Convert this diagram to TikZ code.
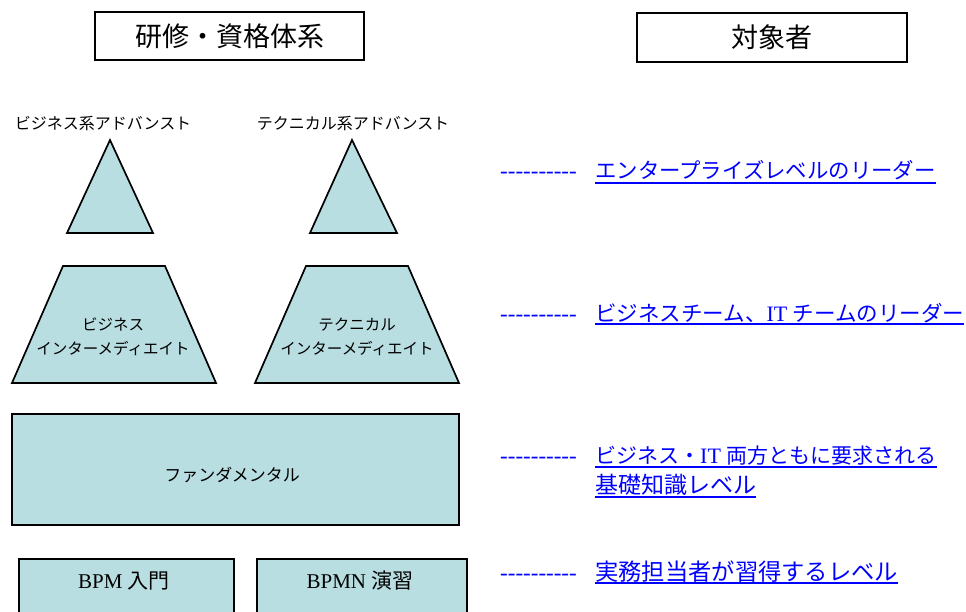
\documentclass[tikz,border=0pt]{standalone}
\usepackage{fontspec}
\setmainfont{Liberation Serif}
\newfontfamily\jp{Noto Sans CJK JP}
\definecolor{pale}{RGB}{185,222,226}
\definecolor{linkblue}{RGB}{0,0,255}
\newcommand{\dashrow}{-{}-{}-{}-{}-{}-{}-{}-{}-{}-}
\begin{document}
\begin{tikzpicture}[x=1pt,y=-1pt,
  hdr/.style={draw, line width=1.8pt, fill=white, inner sep=0pt, font=\jp\fontsize{27}{30}\selectfont},
  shp/.style={draw, line width=1.7pt, fill=pale, line join=miter},
  boxn/.style={draw, line width=1.7pt, fill=pale, inner sep=0pt},
  lbl/.style={inner sep=0pt, font=\jp\fontsize{16}{19}\selectfont},
  tlbl/.style={inner sep=0pt, align=center, font=\jp\fontsize{15.5}{24}\selectfont},
  rmlbl/.style={inner sep=0pt, font=\fontsize{21}{24}\selectfont},
  dashes/.style={inner sep=0pt, anchor=base west, text=linkblue, font=\fontsize{23}{24}\selectfont},
  link/.style={inner sep=0pt, anchor=base west, text=linkblue, font=\fontsize{22}{26}\selectfont},
  uline/.style={draw=linkblue, line width=1.4pt}]
\useasboundingbox (0,0) rectangle (966,612);
\clip (0,0) rectangle (966,612);
\fill[white] (0,0) rectangle (966,612);

% headers
\node[hdr, minimum width=269pt, minimum height=48pt] (h1) at (229.5,36) {研修・資格体系};
\node[hdr, minimum width=270pt, minimum height=49pt] (h2) at (772,37.5) {対象者};

% advanced triangles
\node[lbl] (adv1) at (103,124) {ビジネス系アドバンスト};
\node[lbl] (adv2) at (353,124) {テクニカル系アドバンスト};
\draw[shp] (110,140) -- (153,233) -- (67,233) -- cycle;
\draw[shp] (352,140) -- (397,233) -- (310,233) -- cycle;

% intermediate trapezoids
\draw[shp] (63,266) -- (165,266) -- (216,383) -- (12,383) -- cycle;
\draw[shp] (306,266) -- (408,266) -- (459,383) -- (255,383) -- cycle;
\node[tlbl] (im1) at (113,337) {ビジネス\\インターメディエイト};
\node[tlbl] (im2) at (357,337) {テクニカル\\インターメディエイト};

% fundamental
\node[boxn, minimum width=447pt, minimum height=111pt] (fund) at (235.5,469.5) {};
\node[lbl, font=\jp\fontsize{17}{20}\selectfont] (fundt) at (232,475) {ファンダメンタル};

% bottom boxes
\node[boxn, minimum width=215pt, minimum height=70pt, anchor=north west] (b1) at (18,558) {};
\node[boxn, minimum width=210pt, minimum height=70pt, anchor=north west] (b2) at (256,558) {};
\node[rmlbl] (b1t) at (124,581) {BPM {\jp 入門}};
\node[rmlbl] (b2t) at (360,581) {BPMN {\jp 演習}};

% target descriptions
\node[dashes] (d1) at (500,179) {\dashrow};
\node[dashes] (d2) at (500,321) {\dashrow};
\node[dashes] (d3) at (500,463) {\dashrow};
\node[dashes] (d4) at (500,580) {\dashrow};

\node[link, font=\jp\fontsize{21.4}{26}\selectfont] (t1) at (595,179) {エンタープライズレベルのリーダー};
\node[link] (t2) at (595,321) {{\jp\fontsize{21.5}{26}\selectfont ビジネスチーム、}IT {\jp\fontsize{21.5}{26}\selectfont チームのリーダー}};
\node[link] (t3a) at (595,463) {{\jp\fontsize{21}{26}\selectfont ビジネス・}IT {\jp\fontsize{21}{26}\selectfont 両方ともに要求される}};
\node[link, font=\jp\fontsize{23}{26}\selectfont] (t3b) at (595,493) {基礎知識レベル};
\node[link, font=\jp\fontsize{23.3}{26}\selectfont] (t4) at (595,580) {実務担当者が習得するレベル};

\draw[uline] ([yshift=-4pt]t1.base west) -- ([yshift=-4pt]t1.base east);
\draw[uline] ([yshift=-3pt]t2.base west) -- ([yshift=-3pt]t2.base east);
\draw[uline] ([yshift=-4pt]t3a.base west) -- ([yshift=-4pt]t3a.base east);
\draw[uline] ([yshift=-4pt]t3b.base west) -- ([yshift=-4pt]t3b.base east);
\draw[uline] ([yshift=-3pt]t4.base west) -- ([yshift=-3pt]t4.base east);
\end{tikzpicture}
\end{document}
